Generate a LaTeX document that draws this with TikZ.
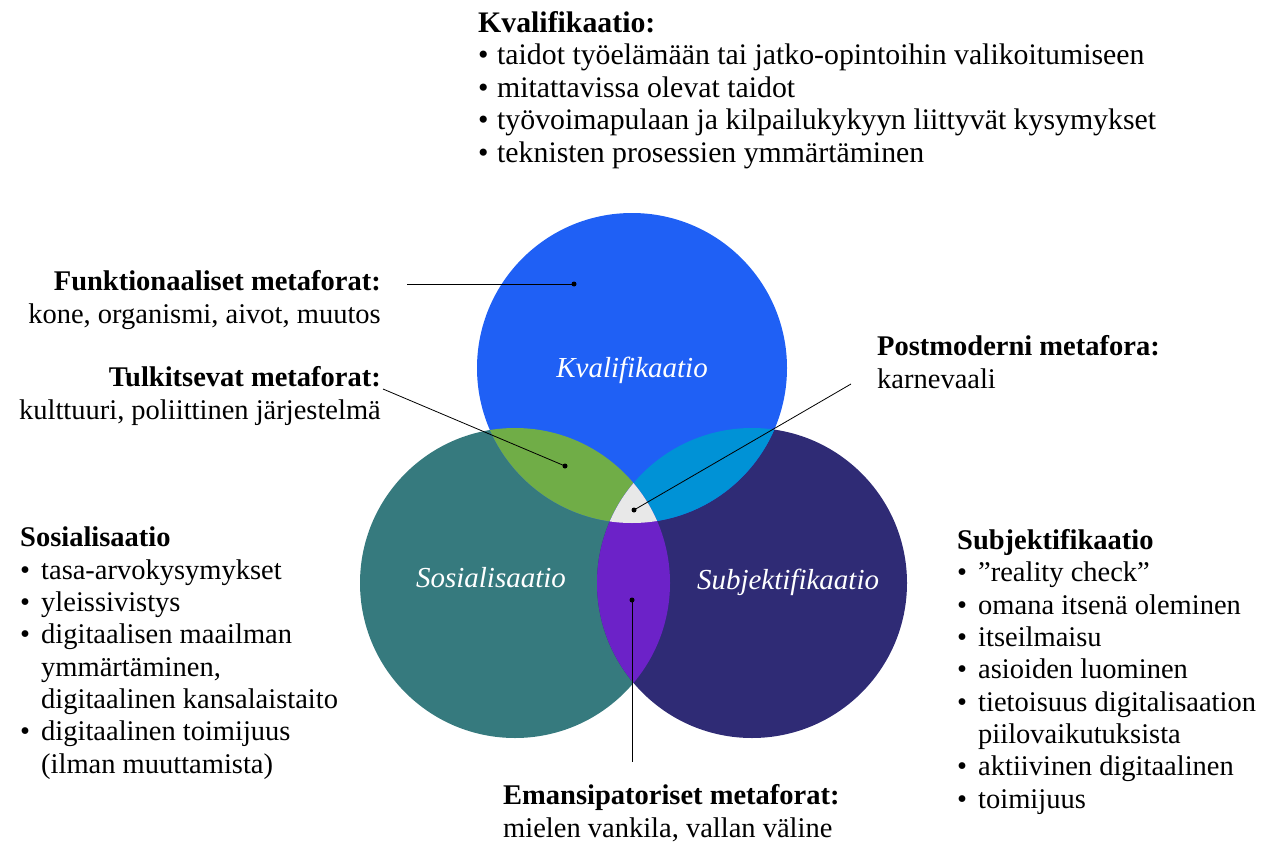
\documentclass[tikz,border=0pt]{standalone}
\usepackage{fontspec}
\setmainfont{Liberation Serif}
\usepackage{xcolor}
\definecolor{kval}{HTML}{1F60F5}
\definecolor{sosi}{HTML}{367A7E}
\definecolor{subj}{HTML}{2F2B75}
\definecolor{tulk}{HTML}{70AD47}
\definecolor{kvsu}{HTML}{0092D6}
\definecolor{eman}{HTML}{6C22C8}
\definecolor{post}{HTML}{E8E8E8}
\newcommand{\bul}{\makebox[21pt][l]{\textbullet}}
\newcommand{\ind}{\hspace*{21pt}}
\tikzset{
	txt/.style={inner sep=0pt, font=\fontsize{28.5}{32.3}\selectfont},
	toptxt/.style={inner sep=0pt, font=\fontsize{29.8}{32.5}\selectfont},
	circlabel/.style={inner sep=0pt, text=white, font=\fontsize{29}{30}\selectfont\itshape},
	callout/.style={line width=0.8pt},
}

\begin{document}
\begin{tikzpicture}[x=1pt,y=-1pt]
		\useasboundingbox (0,0) rectangle (1264,843);
		%circle centres
		\coordinate (ckval) at (632,368);
		\coordinate (csosi) at (515,583);
		\coordinate (csubj) at (752,583);
		%circles
		\fill[sosi] (csosi) circle[radius=155];
		\fill[subj] (csubj) circle[radius=155];
		\fill[kval] (ckval) circle[radius=155];
		%overlaps with the top circle
		\begin{scope}
			\clip (ckval) circle[radius=155];
			\fill[tulk] (csosi) circle[radius=155];
			\fill[kvsu] (csubj) circle[radius=155];
		\end{scope}
		%lower overlap and the middle
		\begin{scope}
			\clip (csosi) circle[radius=155];
			\fill[eman] (csubj) circle[radius=155];
			\clip (ckval) circle[radius=155];
			\fill[post] (csubj) circle[radius=155];
		\end{scope}
		%circle labels
		\node[circlabel, anchor=base] (lkval) at (632,377) {Kvalifikaatio};
		\node[circlabel, anchor=base] (lsosi) at (491,587) {Sosialisaatio};
		\node[circlabel, anchor=base] (lsubj) at (788,589) {Subjektifikaatio};
		%callout lines
		\coordinate (funkstart) at (407,284);
		\coordinate (funkdot) at (574,284);
		\coordinate (tulkstart) at (383,389);
		\coordinate (tulkdot) at (565,466);
		\coordinate (poststart) at (851,384);
		\coordinate (postdot) at (634,510);
		\coordinate (emandot) at (632,600);
		\coordinate (emanend) at (632,762);
		\draw[callout] (funkstart) -- (funkdot);
		\draw[callout] (tulkstart) -- (tulkdot);
		\draw[callout] (poststart) -- (postdot);
		\draw[callout] (emandot) -- (emanend);
		\fill (funkdot) circle[radius=2.5];
		\fill (tulkdot) circle[radius=2.5];
		\fill (postdot) circle[radius=2.5];
		\fill (emandot) circle[radius=2.5];
		%top list (placed by the baseline of its last line)
		\node[toptxt, anchor=base west, align=left] (kvaltxt) at (478,162) {\textbf{Kvalifikaatio:}\\
			\makebox[19pt][l]{\textbullet}taidot työelämään tai jatko-opintoihin valikoitumiseen\\
			\makebox[19pt][l]{\textbullet}mitattavissa olevat taidot\\
			\makebox[19pt][l]{\textbullet}työvoimapulaan ja kilpailukykyyn liittyvät kysymykset\\
			\makebox[19pt][l]{\textbullet}teknisten prosessien ymmärtäminen};
		%metaphor labels
		\node[txt, anchor=base east, align=right] (funktxt) at (381,323) {\textbf{Funktionaaliset metaforat:}\\ kone, organismi, aivot, muutos};
		\node[txt, anchor=base east, align=right] (tulktxt) at (381,419) {\textbf{Tulkitsevat metaforat:}\\ kulttuuri, poliittinen järjestelmä};
		\node[txt, anchor=base west, align=left] (posttxt) at (877,388) {\textbf{Postmoderni metafora:}\\ karnevaali};
		\node[txt, anchor=base west, align=left] (emantxt) at (503,837) {\textbf{Emansipatoriset metaforat:}\\ mielen vankila, vallan väline};
		%side lists
		\node[txt, anchor=base west, align=left] (sositxt) at (20,773) {\textbf{Sosialisaatio}\\
			\bul tasa-arvokysymykset\\
			\bul yleissivistys\\
			\bul digitaalisen maailman\\
			\ind ymmärtäminen,\\
			\ind digitaalinen kansalaistaito\\
			\bul digitaalinen toimijuus\\
			\ind (ilman muuttamista)};
		\node[txt, anchor=base west, align=left] (subjtxt) at (957,808) {\textbf{Subjektifikaatio}\\
			\bul ”reality check”\\
			\bul omana itsenä oleminen\\
			\bul itseilmaisu\\
			\bul asioiden luominen\\
			\bul tietoisuus digitalisaation\\
			\ind piilovaikutuksista\\
			\bul aktiivinen digitaalinen\\
			\bul toimijuus};
	\end{tikzpicture}
\end{document}
